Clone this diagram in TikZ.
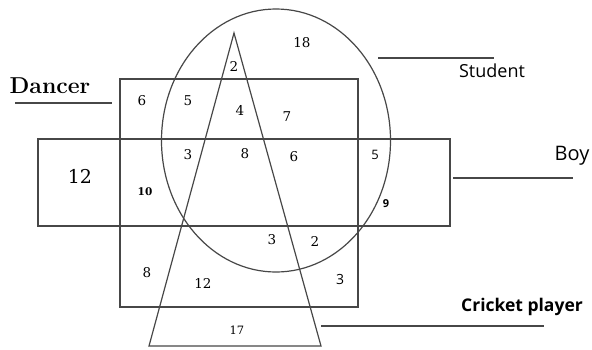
\documentclass[tikz,border=0pt]{standalone}
\usepackage{fontspec}
\usepackage{tikz}
\usetikzlibrary{positioning}
\newfontfamily\labelsans{Open Sans}
\newfontfamily\numserif{DejaVu Serif}

\begin{document}
\begin{tikzpicture}[x=1pt, y=-1pt,
    setline/.style={draw=black!72, line width=1.2pt},
    num/.style={font=\numserif\fontsize{13.5}{13.5}\selectfont},
    title/.style={font=\labelsans\fontsize{18}{18}\selectfont, anchor=center}]
  \useasboundingbox (0,0) rectangle (592,349);
  % Dancer rectangle
  \draw[setline] (120,79) rectangle (358,307);
  % Boy rectangle
  \draw[setline] (38,139) rectangle (450,226);
  % Student ellipse
  \draw[setline] (276,140.5) ellipse [x radius=114.5, y radius=131.5];
  % Cricket player triangle
  \draw[setline] (234,33) -- (149,346) -- (321,346) -- cycle;
  % labels and their lines
  \node[font=\bfseries\fontsize{23}{23}\selectfont] (dancer) at (50,86) {Dancer};
  \coordinate (dl) at (15,103);
  \coordinate (dr) at (112,103);
  \draw[setline] (dl) -- (dr);
  \node[title] (student) at (492,71) {Student};
  \coordinate (sl) at (378,58);
  \coordinate (sr) at (494,58);
  \draw[setline] (sl) -- (sr);
  \node[title, font=\labelsans\fontsize{20}{20}\selectfont] (boy) at (572,156) {Boy};
  \coordinate (bl) at (453,178);
  \coordinate (br) at (573,178);
  \draw[setline] (bl) -- (br);
  \node[title, font=\labelsans\bfseries\fontsize{17.5}{17.5}\selectfont] (cricket) at (522,307) {Cricket player};
  \coordinate (cl) at (321,326);
  \coordinate (cr) at (544,326);
  \draw[setline] (cl) -- (cr);
  % region counts
  \foreach \x/\y/\n [count=\i] in {302/43/18, 234/66/2, 142/101/6, 188/101/5,
      240/110/4, 287/117/7, 188/155/3, 245/154/8, 294/157/6,
      272/240/3, 315/241/2, 147/273/8, 203/283/12} {
    \node[num] (n\i) at (\x,\y) {\n};
  }
  \node[num, font=\numserif\fontsize{19}{19}\selectfont] (left) at (80,176) {12};
  \node[num, font=\numserif\bfseries\fontsize{10.5}{10.5}\selectfont] (ten) at (145,192) {10};
  \node[num, font=\numserif\fontsize{11.5}{11.5}\selectfont] (bottom) at (237,330) {17};
  \node[num, font=\labelsans\fontsize{13}{13}\selectfont] (five) at (375,155) {5};
  \node[num, font=\labelsans\bfseries\fontsize{11}{11}\selectfont] (nine) at (386,204) {9};
  \node[num, font=\labelsans\fontsize{14}{14}\selectfont] (three) at (340,279) {3};
\end{tikzpicture}
\end{document}
